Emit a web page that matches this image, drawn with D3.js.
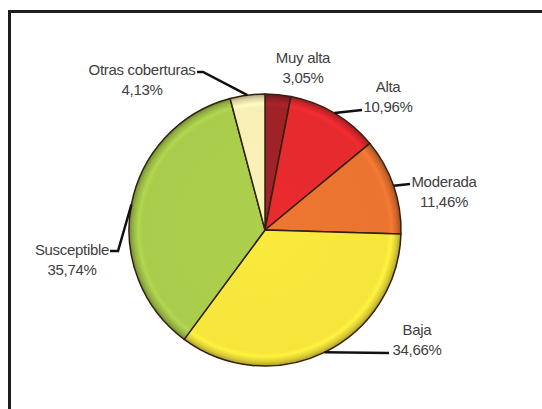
<!DOCTYPE html>
<html>
<head>
<meta charset="utf-8">
<script src="https://cdn.jsdelivr.net/npm/d3@7"></script>
<style>
  html, body { margin: 0; padding: 0; background: #fff; }
  svg { display: block; }
  text { font-family: "Liberation Sans", Arial, sans-serif; font-size: 15px; fill: #404040; letter-spacing: -0.3px; }
</style>
</head>
<body>
<svg id="chart" width="542" height="409"></svg>
<script>
// Susceptibility classes, clockwise from 12 o'clock
const categories = ["Muy alta", "Alta", "Moderada", "Baja", "Susceptible", "Otras coberturas"];
const values = [3.05, 10.96, 11.46, 34.66, 35.74, 4.13];
const valueLabels = ["3,05%", "10,96%", "11,46%", "34,66%", "35,74%", "4,13%"];

const palette = ["#9e2228", "#e62a2e", "#ea7430", "#f6e63c", "#a9cc4c", "#f8efb6"];

// Label anchors (text centre x, first baseline y) and leader elbows
const labelLayout = [
  { x: 303, y: 63, leader: null },
  { x: 388, y: 92, leader: [[362, 110]] },
  { x: 444, y: 187, leader: [[410, 184]] },
  { x: 417, y: 335, leader: [[389, 353]] },
  { x: 72,  y: 255, leader: [[118, 251], [110, 251]] },
  { x: 142, y: 75,  leader: [[203, 72], [197, 72]] }
];

const svg = d3.select("#chart");
const cx = 265, cy = 230, r = 136;

// Frame (only the top and left edges fall inside the view)
svg.append("rect")
  .attr("x", 9.5).attr("y", 11.5)
  .attr("width", 600).attr("height", 500)
  .attr("fill", "none").attr("stroke", "#1e1e1e").attr("stroke-width", 3);

const data = categories.map((c, i) => ({ name: c, value: values[i], label: valueLabels[i], color: palette[i], layout: labelLayout[i] }));

const pie = d3.pie().sort(null).value(d => d.value);
const arcs = pie(data);
const arc = d3.arc().innerRadius(0).outerRadius(r);

// Rim shading gradients
const defs = svg.append("defs");
arcs.forEach((a, i) => {
  const base = d3.color(a.data.color);
  const g = defs.append("radialGradient")
    .attr("id", "grad" + i)
    .attr("gradientUnits", "userSpaceOnUse")
    .attr("cx", 0).attr("cy", 0).attr("r", r);
  g.append("stop").attr("offset", "0%").attr("stop-color", base.brighter(0.05));
  g.append("stop").attr("offset", "90%").attr("stop-color", base);
  g.append("stop").attr("offset", "93%").attr("stop-color", base.brighter(0.15));
  g.append("stop").attr("offset", "97%").attr("stop-color", base.darker(0.35));
  g.append("stop").attr("offset", "100%").attr("stop-color", base.darker(1.1));
});

const gPie = svg.append("g").attr("transform", `translate(${cx},${cy})`);

gPie.selectAll("path.slice")
  .data(arcs)
  .join("path")
  .attr("class", "slice")
  .attr("d", arc)
  .attr("fill", (d, i) => `url(#grad${i})`)
  .attr("stroke", "#33200f")
  .attr("stroke-width", 1.5)
  .attr("stroke-linejoin", "round");

// Leader lines from the outer edge at each slice's mid-angle
const edge = d3.arc().innerRadius(r).outerRadius(r);
const gLab = svg.append("g");
arcs.forEach(a => {
  const L = a.data.layout;
  if (L.leader) {
    const c = edge.centroid(a);
    const pts = [[cx + c[0], cy + c[1]], ...L.leader];
    gLab.append("path")
      .attr("d", d3.line()(pts))
      .attr("fill", "none")
      .attr("stroke", "#111")
      .attr("stroke-width", 2.5);
  }
  const t = gLab.append("text").attr("text-anchor", "middle");
  t.append("tspan").attr("x", L.x).attr("y", L.y).text(a.data.name);
  t.append("tspan").attr("x", L.x).attr("y", L.y + 20).text(a.data.label);
});
</script>
</body>
</html>
